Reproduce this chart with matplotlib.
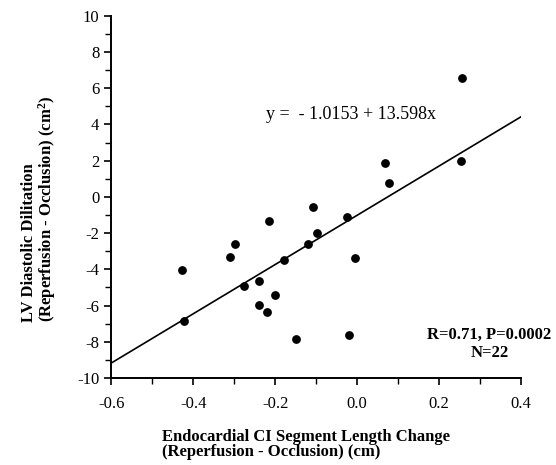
import numpy as np
import matplotlib
matplotlib.use('Agg')
import matplotlib.pyplot as plt

# segment length change (cm) vs LV diastolic dilitation (cm^2)
seg_change = [-0.428, -0.422, -0.310, -0.298, -0.277, -0.240, -0.240, -0.214,
              -0.219, -0.200, -0.179, -0.148, -0.120, -0.107, -0.097, -0.024,
              -0.019, -0.006, 0.077, 0.255, 0.067, 0.254]
dilitation = [-4.03, -6.83, -3.33, -2.58, -4.90, -4.62, -5.95, -1.33,
              -6.35, -5.43, -3.48, -7.85, -2.62, -0.57, -1.99, -1.10,
              -7.60, -3.37, 0.79, 6.59, 1.86, 1.97]
intercept = -1.0153
slope = 13.598
x_ticks = [-0.6, -0.4, -0.2, 0.0, 0.2, 0.4]
y_ticks = [-10, -8, -6, -4, -2, 0, 2, 4, 6, 8, 10]

plt.rcParams['font.family'] = ['Liberation Serif', 'DejaVu Serif']
plt.rcParams['mathtext.fontset'] = 'custom'
plt.rcParams['mathtext.rm'] = 'Liberation Serif'
plt.rcParams['mathtext.bf'] = 'Liberation Serif:bold'
plt.rcParams['axes.unicode_minus'] = False

fig = plt.figure(figsize=(5.56, 4.65), dpi=100)
ax = fig.add_axes([0.200, 0.187, 0.737, 0.779])

ax.scatter(seg_change, dilitation, s=28, color='black', zorder=3)
xl = np.array([-0.6, 0.4])
ax.plot(xl, intercept + slope * xl, color='black', lw=1.2)

ax.set_xlim(-0.6, 0.4)
ax.set_ylim(-10, 10)
ax.set_xticks(x_ticks)
ax.set_xticklabels(['%.1f' % v for v in x_ticks])
ax.set_xticks(np.arange(-0.5, 0.4, 0.2), minor=True)
ax.set_yticks(y_ticks)
ax.set_yticks(np.arange(-9, 10, 2), minor=True)
ax.tick_params(which='major', length=5, width=1.2, labelsize=12, direction='out')
ax.tick_params(which='minor', length=4, width=1.0, direction='out')
ax.tick_params(axis='x', pad=8)
for s in ['top', 'right']:
    ax.spines[s].set_visible(False)
for s in ['left', 'bottom']:
    ax.spines[s].set_linewidth(1.4)

ax.text(-0.223, 4.53, 'y =  - 1.0153 + 13.598x', fontsize=13, va='center')
ax.text(0.323, -7.6, 'R=0.71, P=0.0002', fontsize=12, fontweight='bold',
        ha='center', va='center')
ax.text(0.323, -8.6, 'N=22', fontsize=12, fontweight='bold',
        ha='center', va='center')

fig.text(0.291, 1 - 444.5 / 465, 'Endocardial CI Segment Length Change\n(Reperfusion - Occlusion) (cm)',
         fontsize=12, fontweight='bold', ha='left', va='center',
         linespacing=0.95)
fig.text(0.071, 1 - 322 / 465, 'LV Diastolic Dilitation\n(Reperfusion - Occlusion) (cm$\\mathbf{^2}$)',
         fontsize=12, fontweight='bold', rotation=90, ha='center', va='bottom',
         multialignment='left', linespacing=0.95)

fig.savefig('out.png', dpi=100)
